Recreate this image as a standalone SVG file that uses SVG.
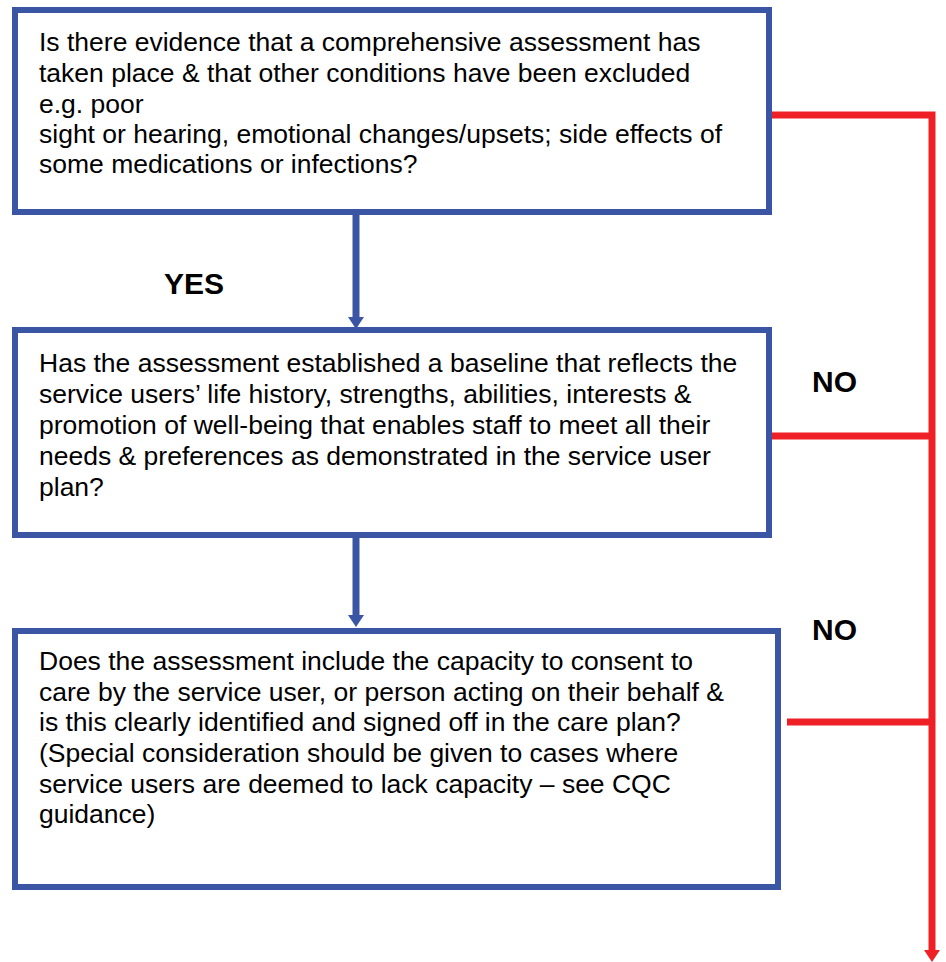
<svg xmlns="http://www.w3.org/2000/svg" width="946" height="962" viewBox="0 0 946 962">
<style>
.box{fill:#fff;stroke:#3A55A4;stroke-width:6}
.t{font-family:"Liberation Sans",Arial,sans-serif;font-size:26.5px;fill:#000}
.lbl{font-family:"Liberation Sans",Arial,sans-serif;font-size:30px;font-weight:bold;fill:#000}
.blue{stroke:#3A55A4;stroke-width:7;fill:none}
.red{stroke:#EE2026;stroke-width:7;fill:none}
</style>
<defs>
<marker id="ab" markerWidth="13" markerHeight="16" refX="0" refY="8" orient="auto" markerUnits="userSpaceOnUse"><path d="M0,0 L12,8 L0,16 Z" fill="#3A55A4"/></marker>
<marker id="ar" markerWidth="13" markerHeight="16" refX="0" refY="8" orient="auto" markerUnits="userSpaceOnUse"><path d="M0,0 L12,8 L0,16 Z" fill="#EE2026"/></marker>
</defs>
<g id="connectors">
<line class="blue" x1="356" y1="213" x2="356" y2="317" marker-end="url(#ab)"/>
<line class="blue" x1="356" y1="537" x2="356" y2="615" marker-end="url(#ab)"/>
<polyline class="red" points="771,115 932,115 932,950" marker-end="url(#ar)"/>
<line class="red" x1="763" y1="436" x2="932" y2="436"/>
<line class="red" x1="787" y1="722" x2="932" y2="722"/>
</g>
<g id="node1">
<rect class="box" x="15" y="10" width="754" height="202"/>
<text class="t" x="39" y="51">Is there evidence that a comprehensive assessment has</text>
<text class="t" x="39" y="82">taken place &amp; that other conditions have been excluded</text>
<text class="t" x="39" y="113">e.g. poor</text>
<text class="t" x="39" y="143">sight or hearing, emotional changes/upsets; side effects of</text>
<text class="t" x="39" y="173">some medications or infections?</text>
</g>
<g id="label-yes"><text class="lbl" x="164" y="294">YES</text></g>
<g id="node2">
<rect class="box" x="15" y="330" width="754" height="205"/>
<text class="t" x="39" y="372">Has the assessment established a baseline that reflects the</text>
<text class="t" x="39" y="403">service users’ life history, strengths, abilities, interests &amp;</text>
<text class="t" x="39" y="434">promotion of well-being that enables staff to meet all their</text>
<text class="t" x="39" y="465">needs &amp; preferences as demonstrated in the service user</text>
<text class="t" x="39" y="496">plan?</text>
</g>
<g id="label-no1"><text class="lbl" x="812" y="392">NO</text></g>
<g id="node3">
<rect class="box" x="15" y="631" width="763" height="256"/>
<text class="t" x="39" y="670">Does the assessment include the capacity to consent to</text>
<text class="t" x="39" y="701">care by the service user, or person acting on their behalf &amp;</text>
<text class="t" x="39" y="731">is this clearly identified and signed off in the care plan?</text>
<text class="t" x="39" y="762">(Special consideration should be given to cases where</text>
<text class="t" x="39" y="793">service users are deemed to lack capacity – see CQC</text>
<text class="t" x="39" y="823">guidance)</text>
</g>
<g id="label-no2"><text class="lbl" x="812" y="640">NO</text></g>
</svg>
